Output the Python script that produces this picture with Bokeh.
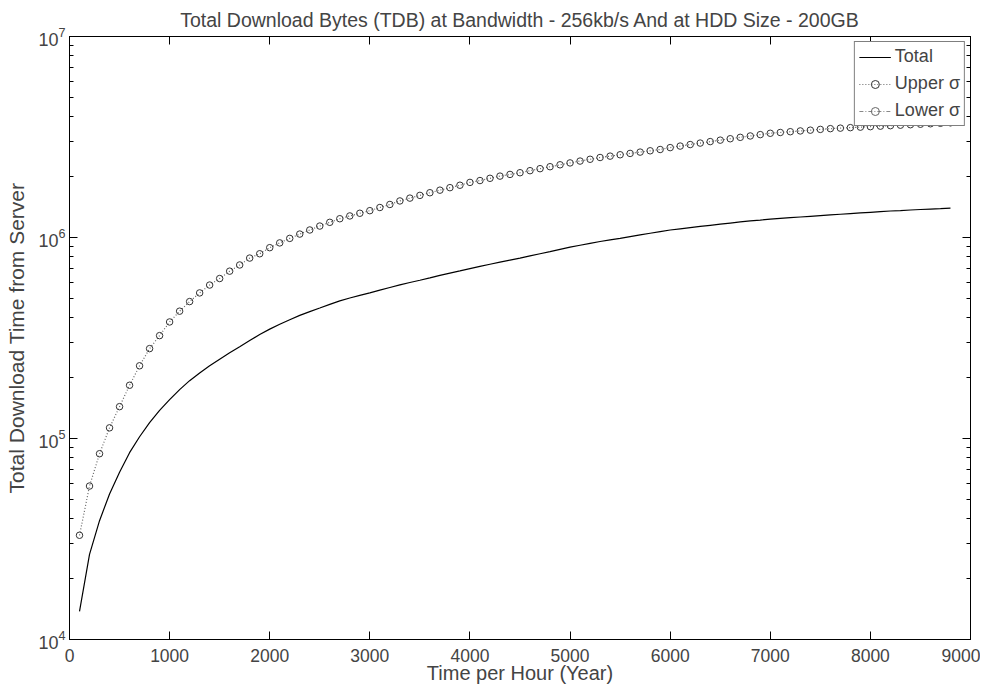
from bokeh.plotting import figure
from bokeh.models import (LinearAxis, LogAxis, FixedTicker, LogTicker, Legend, LegendItem,
                          ColumnDataSource, CustomJSTickFormatter)
from bokeh.embed import file_html
from bokeh.resources import INLINE

# ---- data ----
hours = [100, 200, 300, 400, 500, 600, 700, 800, 900, 1000,
         1100, 1200, 1300, 1400, 1500, 1600, 1700, 1800, 1900, 2000,
         2100, 2200, 2300, 2400, 2500, 2600, 2700, 2800, 2900, 3000,
         3100, 3200, 3300, 3400, 3500, 3600, 3700, 3800, 3900, 4000,
         4100, 4200, 4300, 4400, 4500, 4600, 4700, 4800, 4900, 5000,
         5100, 5200, 5300, 5400, 5500, 5600, 5700, 5800, 5900, 6000,
         6100, 6200, 6300, 6400, 6500, 6600, 6700, 6800, 6900, 7000,
         7100, 7200, 7300, 7400, 7500, 7600, 7700, 7800, 7900, 8000,
         8100, 8200, 8300, 8400, 8500, 8600, 8700, 8800]

total = [1.38e4, 2.65e4, 3.9e4, 5.3e4, 6.8e4, 8.5e4, 1.02e5, 1.2e5, 1.38e5, 1.56e5,
         1.75e5, 1.94e5, 2.12e5, 2.3e5, 2.48e5, 2.67e5, 2.86e5, 3.07e5, 3.29e5, 3.5e5,
         3.7e5, 3.9e5, 4.1e5, 4.28e5, 4.46e5, 4.65e5, 4.84e5, 5.0e5, 5.15e5, 5.3e5,
         5.47e5, 5.64e5, 5.81e5, 5.97e5, 6.13e5, 6.3e5, 6.48e5, 6.65e5, 6.82e5, 7.0e5,
         7.18e5, 7.36e5, 7.54e5, 7.72e5, 7.9e5, 8.1e5, 8.3e5, 8.5e5, 8.72e5, 8.95e5,
         9.15e5, 9.35e5, 9.55e5, 9.73e5, 9.9e5, 1.01e6, 1.03e6, 1.05e6, 1.07e6, 1.09e6,
         1.105e6, 1.12e6, 1.135e6, 1.15e6, 1.165e6, 1.18e6, 1.195e6, 1.21e6, 1.22e6, 1.235e6,
         1.245e6, 1.255e6, 1.265e6, 1.275e6, 1.285e6, 1.295e6, 1.305e6, 1.315e6, 1.325e6, 1.335e6,
         1.345e6, 1.355e6, 1.362e6, 1.37e6, 1.378e6, 1.385e6, 1.392e6, 1.4e6]

upper_sigma = [3.3e4, 5.8e4, 8.4e4, 1.13e5, 1.44e5, 1.84e5, 2.3e5, 2.8e5, 3.25e5, 3.8e5,
               4.3e5, 4.8e5, 5.3e5, 5.8e5, 6.25e5, 6.8e5, 7.3e5, 7.9e5, 8.3e5, 8.9e5,
               9.4e5, 9.9e5, 1.04e6, 1.09e6, 1.14e6, 1.19e6, 1.24e6, 1.28e6, 1.32e6, 1.36e6,
               1.41e6, 1.46e6, 1.52e6, 1.57e6, 1.62e6, 1.67e6, 1.72e6, 1.77e6, 1.82e6, 1.88e6,
               1.92e6, 1.97e6, 2.02e6, 2.06e6, 2.1e6, 2.15e6, 2.2e6, 2.25e6, 2.3e6, 2.35e6,
               2.4e6, 2.45e6, 2.5e6, 2.54e6, 2.58e6, 2.62e6, 2.66e6, 2.7e6, 2.74e6, 2.8e6,
               2.85e6, 2.9e6, 2.95e6, 3.0e6, 3.05e6, 3.1e6, 3.15e6, 3.2e6, 3.25e6, 3.3e6,
               3.33e6, 3.36e6, 3.39e6, 3.42e6, 3.45e6, 3.48e6, 3.5e6, 3.52e6, 3.54e6, 3.56e6,
               3.58e6, 3.6e6, 3.62e6, 3.64e6, 3.66e6, 3.68e6, 3.7e6, 3.72e6]

# Lower sigma = total - sigma, with sigma = upper - total; it is negative everywhere,
# so (as in the reference) it cannot appear on the log axis - only in the legend.
lower_sigma = [2 * t - u for t, u in zip(total, upper_sigma)]

x_ticks = [0, 1000, 2000, 3000, 4000, 5000, 6000, 7000, 8000, 9000]

FONT = "Liberation Sans"

p = figure(y_axis_type="log", x_range=(0, 9000), y_range=(1e4, 1e7),
           frame_width=901, frame_height=603,
           min_border_left=69, min_border_top=35, min_border_right=10, min_border_bottom=44,
           output_backend="svg", toolbar_location=None,
           title="Total Download Bytes (TDB) at Bandwidth - 256kb/s And at HDD Size - 200GB")

p.title.align = "center"
p.title.text_font = FONT
p.title.text_font_size = "19.5px"
p.title.text_font_style = "normal"
p.title.text_line_height = 0.9
p.title.standoff = 12

p.xgrid.grid_line_color = None
p.ygrid.grid_line_color = None
p.outline_line_color = "black"
p.outline_line_width = 1
p.background_fill_color = "white"
p.border_fill_color = "white"

# bottom axis
xa = p.xaxis[0]
xa.ticker = FixedTicker(ticks=x_ticks)
xa.axis_label = "Time per Hour (Year)"
xa.axis_label_standoff = -3
xa.axis_label_text_font = FONT
xa.axis_label_text_font_size = "20px"
xa.axis_label_text_font_style = "normal"
xa.major_label_text_font = FONT
xa.major_label_text_font_size = "17.5px"
xa.major_label_standoff = 9
xa.major_tick_in = 8
xa.major_tick_out = 0
xa.minor_tick_line_color = None
xa.axis_line_color = "black"

# left axis
ya = p.yaxis[0]
ya.ticker = LogTicker(num_minor_ticks=10)
ya.axis_label = "Total Download Time from Server"
ya.axis_label_standoff = 7
ya.axis_label_text_font = FONT
ya.axis_label_text_font_size = "21px"
ya.axis_label_text_font_style = "normal"
ya.major_label_text_font = FONT
ya.major_label_text_font_size = "18px"
ya.major_label_standoff = 4
ya.major_tick_in = 8
ya.major_tick_out = 0
ya.minor_tick_in = 4
ya.minor_tick_out = 0
ya.axis_line_color = "black"

# top and right box axes (ticks only, no labels)
blank = CustomJSTickFormatter(code="return ''")
top = LinearAxis(ticker=FixedTicker(ticks=x_ticks), major_tick_in=8, major_tick_out=0,
                 minor_tick_line_color=None, formatter=blank,
                 major_label_standoff=0, axis_line_color="black")
p.add_layout(top, "above")
right = LogAxis(ticker=LogTicker(num_minor_ticks=10), major_tick_in=8, major_tick_out=0,
                minor_tick_in=4, minor_tick_out=0, formatter=blank,
                major_label_standoff=0, axis_line_color="black")
p.add_layout(right, "right")

src = ColumnDataSource(dict(x=hours, total=total, upper=upper_sigma, lower=lower_sigma))

r_total = p.line("x", "total", source=src, line_color="black", line_width=1.2)
r_up_line = p.line("x", "upper", source=src, line_color="#666666", line_width=1.2, line_dash="1 2")
r_up_mark = p.scatter("x", "upper", source=src, marker="circle", size=6.5,
                      line_color="#333333", fill_color=None, line_width=1)
r_low_line = p.line("x", "lower", source=src, line_color="#888888", line_width=1.2, line_dash="4 2 1 2")
r_low_mark = p.scatter("x", "lower", source=src, marker="circle", size=6.5,
                       line_color="#666666", fill_color=None, line_width=1)

legend = Legend(items=[
    LegendItem(label="Total", renderers=[r_total]),
    LegendItem(label="Upper σ", renderers=[r_up_line, r_up_mark]),
    LegendItem(label="Lower σ", renderers=[r_low_line, r_low_mark]),
], location="top_right")
legend.label_text_font = FONT
legend.label_text_font_size = "18px"
legend.glyph_width = 32
legend.glyph_height = 20
legend.label_height = 20
legend.label_standoff = 4
legend.spacing = 6
legend.padding = 4
legend.margin = 5
legend.border_line_color = "black"
legend.border_line_width = 1
legend.background_fill_alpha = 1
p.add_layout(legend, "center")

open("out.html", "w").write(file_html(p, INLINE))
